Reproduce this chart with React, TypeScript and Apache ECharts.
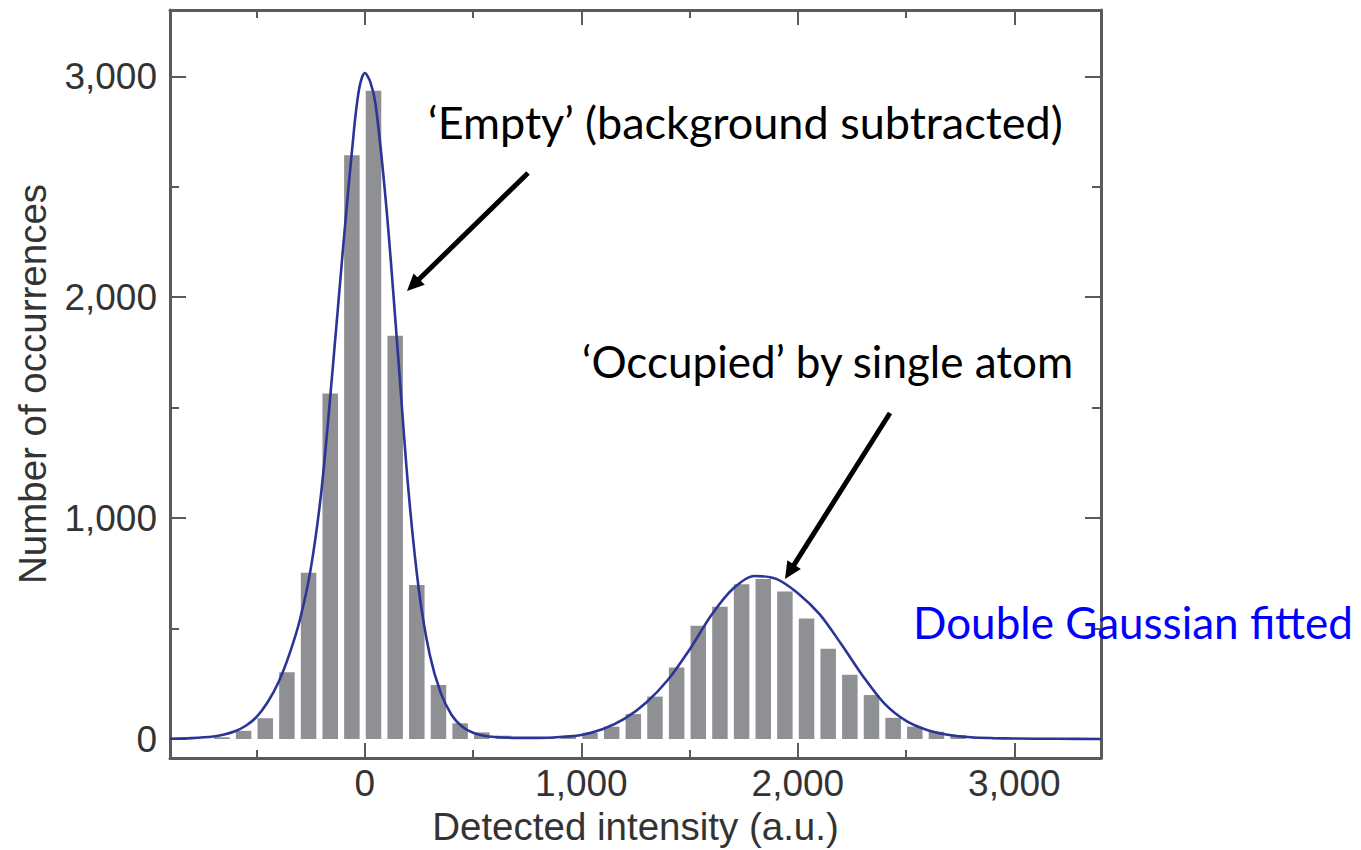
import React, { useEffect, useRef } from "react";
import * as echarts from "echarts";

// Histogram bins (bin centre, counts)
const binCenters = [-660, -560, -460, -360, -260, -160, -60, 40, 140, 240, 340, 440, 540, 640, 740, 840, 940, 1040, 1140, 1240, 1340, 1440, 1540, 1640, 1740, 1840, 1940, 2040, 2140, 2240, 2340, 2440, 2540, 2640, 2740, 2840];
const binCounts = [8, 37, 94, 302, 753, 1564, 2643, 2934, 1825, 697, 244, 71, 30, 15, 8, 8, 15, 28, 56, 113, 192, 324, 513, 599, 701, 724, 668, 546, 409, 291, 199, 96, 56, 33, 18, 8];

// Double Gaussian fit
const curveX = [-900, -800, -700, -650, -600, -550, -500, -450, -400, -350, -300, -250, -200, -150, -100, -50, -25, 0, 25, 50, 100, 150, 200, 250, 300, 350, 400, 450, 500, 550, 600, 700, 800, 900, 1000, 1100, 1200, 1300, 1400, 1500, 1600, 1700, 1800, 1900, 2000, 2100, 2200, 2300, 2400, 2500, 2600, 2700, 2800, 2900, 3000, 3200, 3400];
const curveY = [1, 4, 11, 20, 35, 60, 100, 165, 255, 380, 540, 770, 1130, 1660, 2230, 2760, 2950, 3015, 2975, 2870, 2400, 1780, 1140, 670, 380, 210, 110, 55, 28, 15, 9, 5, 5, 9, 18, 45, 92, 165, 268, 405, 560, 680, 738, 725, 660, 565, 430, 285, 160, 82, 40, 18, 8, 4, 2, 1, 0];

const xMajorTicks = [0, 1000, 2000, 3000];
const xMinorTicks = [-500, 500, 1500, 2500];
const yMajorTicks = [0, 1000, 2000, 3000];
const yMinorTicks = [500, 1500, 2500];

const xTitle = "Detected intensity (a.u.)";
const yTitle = "Number of occurrences";
const note1 = "\u2018Empty\u2019 (background subtracted)";
const note2 = "\u2018Occupied\u2019 by single atom";
const note3 = "Double Gaussian fitted";

const AXIS_COLOR = "#5a5a5a";
const LABEL_COLOR = "#333333";
const FONT = "'Liberation Sans', Arial, sans-serif";

function fmt(v: number) {
  return v.toLocaleString("en-US");
}

function arrow(x1: number, y1: number, x2: number, y2: number) {
  const dx = x2 - x1;
  const dy = y2 - y1;
  const len = Math.sqrt(dx * dx + dy * dy);
  const ux = dx / len;
  const uy = dy / len;
  const headLen = 17;
  const headW = 8;
  const bx = x2 - ux * headLen;
  const by = y2 - uy * headLen;
  return [
    {
      type: "line",
      shape: { x1, y1, x2: bx + ux * 2, y2: by + uy * 2 },
      style: { stroke: "#000", lineWidth: 5 },
      z: 100,
    },
    {
      type: "polygon",
      shape: {
        points: [
          [x2, y2],
          [bx - uy * headW, by + ux * headW],
          [bx + uy * headW, by - ux * headW],
        ],
      },
      style: { fill: "#000" },
      z: 100,
    },
  ];
}

export default function App() {
  const ref = useRef<HTMLDivElement>(null);
  useEffect(() => {
    document.body.style.margin = "0";
    const chart = echarts.init(ref.current!, null, { renderer: "svg" });
    const xBase = {
      type: "value",
      min: -900,
      max: 3400,
      splitLine: { show: false },
      axisLine: { show: false, onZero: false },
      axisLabel: { show: false },
    };
    const yBase = {
      type: "value",
      min: -86,
      max: 3300,
      splitLine: { show: false },
      axisLine: { show: false, onZero: false },
      axisLabel: { show: false },
    };
    const option: any = {
      animation: false,
      backgroundColor: "#ffffff",
      grid: { left: 170, right: 260, top: 10, bottom: 92, containLabel: false, outerBoundsMode: "none" },
      xAxis: [
        {
          ...xBase,
          position: "bottom",
          axisLine: { show: true, onZero: false, lineStyle: { color: AXIS_COLOR, width: 3 } },
          axisTick: { inside: true, length: 15, customValues: xMajorTicks, lineStyle: { color: AXIS_COLOR, width: 2 } },
          axisLabel: {
            show: true,
            customValues: xMajorTicks,
            formatter: (v: number) => fmt(v),
            color: LABEL_COLOR,
            fontFamily: FONT,
            fontSize: 37,
            margin: 7,
          },
          name: xTitle,
          nameLocation: "middle",
          nameGap: 40,
          nameTextStyle: { color: LABEL_COLOR, fontFamily: FONT, fontSize: 38.5 },
        },
        {
          ...xBase,
          position: "bottom",
          axisTick: { inside: true, length: 8, customValues: xMinorTicks, lineStyle: { color: AXIS_COLOR, width: 2 } },
        },
        {
          ...xBase,
          position: "top",
          axisLine: { show: true, onZero: false, lineStyle: { color: AXIS_COLOR, width: 3 } },
          axisTick: { inside: true, length: 15, customValues: xMajorTicks, lineStyle: { color: AXIS_COLOR, width: 2 } },
        },
        {
          ...xBase,
          position: "top",
          axisTick: { inside: true, length: 8, customValues: xMinorTicks, lineStyle: { color: AXIS_COLOR, width: 2 } },
        },
      ],
      yAxis: [
        {
          ...yBase,
          position: "left",
          axisLine: { show: true, onZero: false, lineStyle: { color: AXIS_COLOR, width: 3 } },
          axisTick: { inside: true, length: 16, customValues: yMajorTicks, lineStyle: { color: AXIS_COLOR, width: 2 } },
          axisLabel: {
            show: true,
            customValues: yMajorTicks,
            formatter: (v: number) => fmt(v),
            color: LABEL_COLOR,
            fontFamily: FONT,
            fontSize: 37,
            margin: 13,
          },
          name: yTitle,
          nameLocation: "middle",
          nameGap: 118,
          nameTextStyle: { color: LABEL_COLOR, fontFamily: FONT, fontSize: 38.5 },
        },
        {
          ...yBase,
          position: "left",
          axisTick: { inside: true, length: 9, customValues: yMinorTicks, lineStyle: { color: AXIS_COLOR, width: 2 } },
        },
        {
          ...yBase,
          position: "right",
          axisLine: { show: true, onZero: false, lineStyle: { color: AXIS_COLOR, width: 3 } },
          axisTick: { inside: true, length: 16, customValues: yMajorTicks, lineStyle: { color: AXIS_COLOR, width: 2 } },
        },
        {
          ...yBase,
          position: "right",
          axisTick: { inside: true, length: 9, customValues: yMinorTicks, lineStyle: { color: AXIS_COLOR, width: 2 } },
        },
      ],
      series: [
        {
          type: "bar",
          xAxisIndex: 0,
          yAxisIndex: 0,
          barWidth: 15.5,
          itemStyle: { color: "#8e9094" },
          data: binCenters.map((c, i) => [c, binCounts[i]]),
          z: 2,
        },
        {
          type: "line",
          xAxisIndex: 0,
          yAxisIndex: 0,
          showSymbol: false,
          smooth: 0.3,
          lineStyle: { color: "#2b3596", width: 2.6 },
          data: curveX.map((x, i) => [x, curveY[i]]),
          z: 3,
        },
      ],
      graphic: [
        {
          type: "text",
          x: 428,
          y: 122,
          style: { text: note1, fill: "#000", font: "45px Lato, sans-serif", align: "left", verticalAlign: "middle" },
          z: 100,
        },
        {
          type: "text",
          x: 582,
          y: 361,
          style: { text: note2, fill: "#000", font: "44px Lato, sans-serif", align: "left", verticalAlign: "middle" },
          z: 100,
        },
        {
          type: "text",
          x: 913,
          y: 622,
          style: { text: note3, fill: "#0000ff", font: "44px Lato, sans-serif", align: "left", verticalAlign: "middle" },
          z: 100,
        },
        ...arrow(528, 173, 407, 291),
        ...arrow(890, 413, 785, 579),
      ],
    };
    chart.setOption(option);
    return () => chart.dispose();
  }, []);
  return <div ref={ref} style={{ width: 1361, height: 850 }} />;
}
